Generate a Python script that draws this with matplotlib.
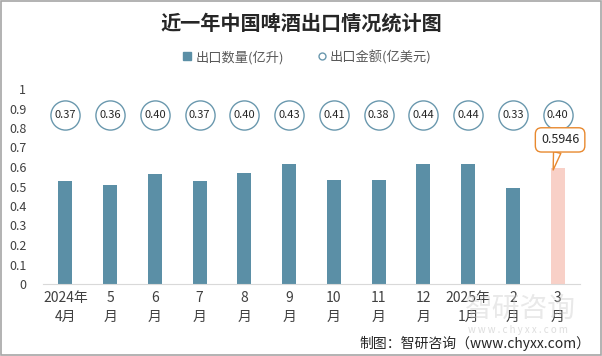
import matplotlib
matplotlib.use('Agg')
import matplotlib.pyplot as plt
from matplotlib.lines import Line2D
from matplotlib.patches import Rectangle

plt.rcParams['font.family'] = ['Noto Sans CJK SC', 'DejaVu Sans']

# data
months = ['2024年\n4月', '5\n月', '6\n月', '7\n月', '8\n月', '9\n月',
          '10\n月', '11\n月', '12\n月', '2025年\n1月', '2\n月', '3\n月']
volume = [0.53, 0.51, 0.565, 0.53, 0.57, 0.615, 0.535, 0.535, 0.615, 0.615, 0.493, 0.5946]
amount = [0.37, 0.36, 0.40, 0.37, 0.40, 0.43, 0.41, 0.38, 0.44, 0.44, 0.33, 0.40]

bar_color = '#5B8FA6'
last_color = '#F8D0C7'
text_color = '#404040'

fig = plt.figure(figsize=(6.02, 3.56), dpi=100)
ax = fig.add_axes([43 / 602, 72 / 356, 537 / 602, 195 / 356])

x = list(range(len(months)))
colors = [bar_color] * (len(months) - 1) + [last_color]
ax.bar(x, volume, width=0.31, color=colors, zorder=2)

# amount labels drawn as a row of circles near the top
circle_y = 0.867
ax.plot(x, [circle_y] * len(x), linestyle='none', marker='o', markersize=21,
        markerfacecolor='white', markeredgecolor='#6A98AE', markeredgewidth=1.0, zorder=3)
for xi, v in zip(x, amount):
    ax.text(xi, circle_y, f'{v:.2f}', ha='center', va='center', fontsize=8,
            color='#262626', zorder=4)

# callout on the latest month
ax.annotate(f'{volume[-1]:.4f}', xy=(x[-1] - 0.1, volume[-1] - 0.01), xytext=(5, 17),
            textcoords='offset points', ha='center', va='bottom', fontsize=9, color='#262626',
            bbox=dict(boxstyle='round,pad=0.45,rounding_size=0.5', fc='white', ec='#E8892F', lw=1),
            arrowprops=dict(arrowstyle='wedge,tail_width=0.6,shrink_factor=0.5',
                            fc='white', ec='#E8892F', lw=1, shrinkA=0, shrinkB=0),
            zorder=5)

ax.set_xlim(-0.5, len(months) - 0.5)
ax.set_ylim(0, 1)
ax.set_yticks([i / 10 for i in range(11)])
ax.set_yticklabels(['0', '0.1', '0.2', '0.3', '0.4', '0.5', '0.6', '0.7', '0.8', '0.9', '1'])
ax.set_xticks(x)
ax.set_xticklabels(months, linespacing=1.45)
ax.tick_params(axis='y', length=0, pad=12, labelsize=9, labelcolor=text_color)
ax.tick_params(axis='x', length=0, pad=5, labelsize=10, labelcolor=text_color)
for side in ['top', 'right', 'left']:
    ax.spines[side].set_visible(False)
ax.spines['bottom'].set_color('#D9D9D9')

fig.text(0.5, 1 - 23 / 356, '近一年中国啤酒出口情况统计图', ha='center', va='center',
         fontsize=14.5, fontweight='bold', color='#262626')

handles = [Line2D([], [], linestyle='none', marker='s', markersize=6,
                  markerfacecolor=bar_color, markeredgecolor=bar_color),
           Line2D([], [], linestyle='none', marker='o', markersize=5,
                  markerfacecolor='white', markeredgecolor='#6A98AE')]
fig.legend(handles, ['出口数量(亿升)', '出口金额(亿美元)'], loc='center',
           bbox_to_anchor=(0.51, 1 - 57 / 356), ncol=2, frameon=False, fontsize=9.5,
           labelcolor='#595959', handletextpad=0.2, columnspacing=2.5, handlelength=0.8)

# faint watermark in the lower right
fig.text(465 / 602, 1 - 309 / 356, '智研咨询', ha='left', va='center', fontsize=20,
         color='#C8C8C8', alpha=0.4)
fig.text(468 / 602, 1 - 330 / 356, 'w w w . c h y x x . c o m', ha='left', va='center',
         fontsize=7, color='#C8C8C8', alpha=0.6)

fig.text(0.98, 1 - 343 / 356, '制图：智研咨询（www.chyxx.com）', ha='right', va='center',
         fontsize=10, color='#262626')

fig.patches.append(Rectangle((0.001, 0.002), 0.997, 0.995, transform=fig.transFigure,
                             fill=False, ec='#A6A6A6', lw=1.2))

fig.savefig('out.png', dpi=100)
